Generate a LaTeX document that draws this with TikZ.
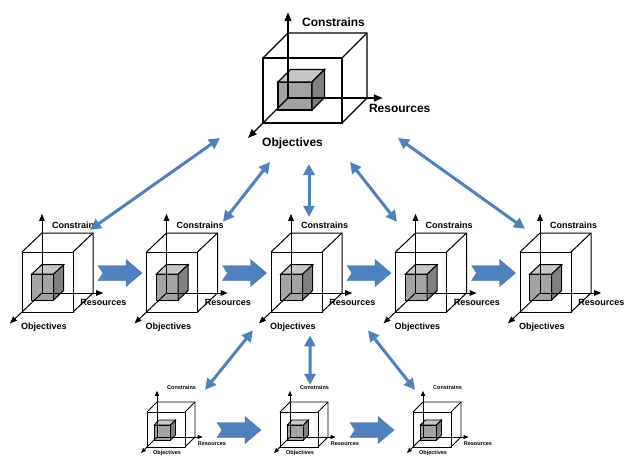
\documentclass[tikz,border=0pt]{standalone}
\usepackage{fontspec}
\setsansfont{Liberation Sans}
\usetikzlibrary{arrows.meta}

\definecolor{flowblue}{RGB}{79,129,189}
\definecolor{boxfront}{gray}{0.64}
\definecolor{boxtop}{gray}{0.78}
\definecolor{boxside}{gray}{0.5}

\tikzset{
  con x/.store in=\conx, con y/.store in=\cony,
  res x/.store in=\resx, res y/.store in=\resy,
  obj x/.store in=\objx, obj y/.store in=\objy,
  toplevel/.style={frame/.style={line width=1.2pt},
    axis/.style={line width=1.2pt, -{Triangle[length=9pt,width=7pt]}},
    lbl/.style={inner sep=0pt, anchor=west, font=\sffamily\bfseries\fontsize{12}{14}\selectfont},
    con x=14, con y=10, res x=-14, res y=10, obj x=14, obj y=5},
  midlevel/.style={frame/.style={line width=1pt},
    axis/.style={line width=1pt, -{Triangle[length=7pt,width=5.5pt]}},
    lbl/.style={inner sep=0pt, anchor=west, font=\sffamily\bfseries\fontsize{9}{11}\selectfont},
    con x=10, con y=11, res x=-23, res y=9, obj x=11, obj y=4},
  lowlevel/.style={frame/.style={line width=0.8pt},
    axis/.style={line width=0.8pt, -{Triangle[length=5pt,width=4pt]}},
    lbl/.style={inner sep=0pt, anchor=west, font=\sffamily\bfseries\fontsize{5.5}{7}\selectfont},
    con x=10, con y=-3, res x=-5, res y=7, obj x=12, obj y=0},
  link/.style={flowblue, line width=3pt,
    {Triangle[length=11pt,width=11pt]}-{Triangle[length=11pt,width=11pt]}},
  pics/cube/.style n args={4}{code={
    \pgfmathsetmacro\boxx{0.19*#1}
    \pgfmathsetmacro\boxy{-0.2*#2}
    \pgfmathsetmacro\boxw{0.43*#1}
    \pgfmathsetmacro\boxh{0.43*#2}
    \pgfmathsetmacro\boxa{0.5*#3}
    \pgfmathsetmacro\boxb{0.5*#4}
    % small grey box
    \filldraw[frame, fill=boxfront] (\boxx,\boxy) rectangle ++(\boxw,-\boxh);
    \filldraw[frame, fill=boxtop] (\boxx,{\boxy-\boxh}) -- ++(\boxa,-\boxb) -- ++(\boxw,0) -- ++(-\boxa,\boxb) -- cycle;
    \filldraw[frame, fill=boxside] ({\boxx+\boxw},\boxy) -- ++(\boxa,-\boxb) -- ++(0,-\boxh) -- ++(-\boxa,\boxb) -- cycle;
    % wire frame
    \draw[frame] (0,0) rectangle (#1,-#2);
    \draw[frame] (0,-#2) -- ++(#3,-#4) -- ++(#1,0) -- ++(0,#2) -- (#1,0);
    \draw[frame] (#1,-#2) -- ++(#3,-#4);
    % axes
    \coordinate (-o) at (#3,-#4);
    \draw[axis] (-o) -- ++(0,{-1.32*#2}) coordinate (-up);
    \draw[axis] (-o) -- ++({1.2*#1},0) coordinate (-right);
    \draw[axis] (-o) -- ++({-1.6*#3},{1.6*#4}) coordinate (-front);
    \node[lbl] (-con) at ([shift={(\conx,\cony)}]-up) {Constrains};
    \node[lbl] (-res) at ([shift={(\resx,\resy)}]-right) {Resources};
    \node[lbl] (-obj) at ([shift={(\objx,\objy)}]-front) {Objectives};
  }},
  pics/flow/.style={code={
    \fill[flowblue, draw=flowblue!85!black, line width=0.4pt] (-22,-7.5) -- (6,-7.5) -- (6,-13.5) -- (22,0) -- (6,13.5) -- (6,7.5) -- (-22,7.5) -- (-17,0) -- cycle;
  }}
}

\begin{document}
\begin{tikzpicture}[x=1pt, y=-1pt]
  \fill[white] (0,0) rectangle (626,459);
  \useasboundingbox (0,0) rectangle (626,459);

  % top
  \pic[toplevel] (top) at (263,123) {cube={79}{65}{25}{25}};

  % middle row
  \pic[midlevel] (c1) at (22,312) {cube={51}{60}{20}{19}};
  \pic[midlevel] (c2) at (146.5,312) {cube={51}{60}{20}{19}};
  \pic[midlevel] (c3) at (271,312) {cube={51}{60}{20}{19}};
  \pic[midlevel] (c4) at (395.5,312) {cube={51}{60}{20}{19}};
  \pic[midlevel] (c5) at (520,312) {cube={51}{60}{20}{19}};

  % bottom row
  \pic[lowlevel] (b1) at (147,447) {cube={38}{35}{10}{10}};
  \pic[lowlevel] (b2) at (280,447) {cube={38}{35}{10}{10}};
  \pic[lowlevel] (b3) at (413,447) {cube={38}{35}{10}{10}};

  % flow arrows
  \pic at ([shift={(78,-20)}]c1-o) {flow};
  \pic at ([shift={(78,-20)}]c2-o) {flow};
  \pic at ([shift={(78,-20)}]c3-o) {flow};
  \pic at ([shift={(78,-20)}]c4-o) {flow};
  \pic at ([shift={(82,-7)}]b1-o) {flow};
  \pic at ([shift={(82,-7)}]b2-o) {flow};

  % links top - middle
  \draw[link] ([shift={(-68,40)}]top-o) -- ([shift={(48,16)}]c1-up);
  \draw[link] ([shift={(-18,64)}]top-o) -- ([shift={(56.5,8)}]c2-up);
  \draw[link] ([shift={(21,66)}]top-o) -- ([shift={(18,3)}]c3-up);
  \draw[link] ([shift={(62,64)}]top-o) -- ([shift={(-18.5,8)}]c4-up);
  \draw[link] ([shift={(110,40)}]top-o) -- ([shift={(-15,15)}]c5-up);

  % links middle - bottom
  \draw[link] ([shift={(-6,7)}]c3-front) -- ([shift={(48,-1)}]b1-up);
  \draw[link] ([shift={(51,12)}]c3-front) -- ([shift={(20,-6)}]b2-up);
  \draw[link] ([shift={(109,7)}]c3-front) -- ([shift={(-8,-1)}]b3-up);
\end{tikzpicture}
\end{document}
